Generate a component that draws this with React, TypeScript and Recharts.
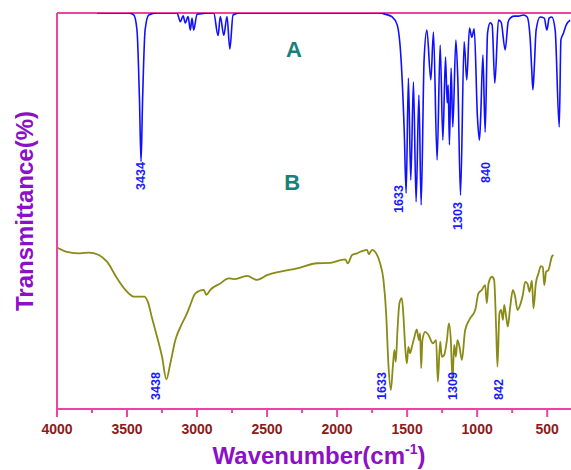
import React from 'react';
import { LineChart, Line, XAxis, YAxis, ReferenceLine, ReferenceDot, Label } from 'recharts';

// spectrum A (blue) — wavenumber / transmittance
const waveA = [3714, 3488, 3452, 3429, 3411, 3400, 3389, 3371, 3345, 3286, 3143, 3119, 3100, 3084, 3064, 3048, 3036, 3024, 3000, 2881, 2850, 2834, 2809, 2786, 2766, 2743, 2693, 1693, 1657, 1607, 1571, 1543, 1521, 1507, 1491, 1474, 1455, 1436, 1416, 1400, 1379, 1359, 1331, 1312, 1286, 1264, 1245, 1226, 1214, 1207, 1198, 1186, 1174, 1152, 1138, 1119, 1093, 1074, 1055, 1038, 1021, 998, 984, 976, 959, 943, 926, 907, 893, 874, 848, 829, 800, 779, 764, 736, 705, 669, 643, 621, 611, 602, 593, 579, 550, 521, 502, 486, 467, 443, 414, 402, 384, 364, 336];
const transA = [100, 100, 99.5, 95.7, 78, 62.4, 78, 95.7, 99.5, 100, 100, 97.8, 99.3, 97.5, 99.1, 95.7, 98.7, 95.7, 99.7, 100, 94.3, 99.1, 94.4, 99.1, 90.9, 99.5, 100, 100, 99.7, 99, 97, 88.1, 70.5, 54.5, 83.6, 57.8, 82.6, 52.3, 79.3, 51.5, 88.1, 95.7, 83.1, 95.2, 62.9, 91.9, 67.9, 88.9, 77.3, 81.8, 66.7, 86.1, 71.2, 93.2, 83.1, 54, 92.7, 83.1, 96.2, 93.9, 96, 73.7, 67.9, 72.7, 89.4, 69.9, 94.9, 97.5, 97, 82.3, 98.2, 97.7, 90.7, 97.7, 98.7, 99.2, 99.2, 99.5, 99, 93.2, 86.1, 80.6, 85.6, 95.7, 99, 98.7, 95.7, 98.7, 99, 95.7, 71.2, 93.2, 94.9, 97, 98.2];

// spectrum B (olive)
const waveB = [4000, 3929, 3834, 3774, 3702, 3643, 3571, 3512, 3452, 3376, 3352, 3321, 3286, 3250, 3219, 3191, 3155, 3107, 3071, 3048, 3012, 2952, 2934, 2905, 2834, 2774, 2738, 2643, 2571, 2500, 2405, 2286, 2143, 2048, 1976, 1941, 1924, 1893, 1857, 1834, 1786, 1774, 1750, 1729, 1693, 1669, 1650, 1634, 1616, 1602, 1591, 1581, 1569, 1555, 1538, 1526, 1514, 1502, 1491, 1479, 1466, 1450, 1431, 1416, 1407, 1400, 1391, 1371, 1348, 1316, 1293, 1281, 1264, 1252, 1236, 1216, 1202, 1188, 1176, 1164, 1152, 1141, 1126, 1109, 1086, 1050, 1014, 991, 966, 943, 931, 919, 895, 879, 864, 855, 841, 829, 816, 807, 793, 781, 764, 745, 729, 712, 693, 674, 657, 641, 626, 609, 598, 581, 562, 545, 531, 521, 507, 491, 466, 455];
const transB = [40.8, 39.7, 39.3, 39.5, 38.9, 37.2, 33, 30.1, 28.4, 28.4, 27.1, 22.9, 18.3, 13.2, 7.5, 11.5, 17.4, 21.6, 24.2, 26.3, 29.2, 30.1, 28.8, 30.1, 31.7, 33, 32.8, 33.6, 32.6, 33.8, 34.7, 35.5, 36.8, 36.9, 37.6, 37.8, 36.8, 38.9, 39.3, 39.7, 40.2, 39.1, 40.2, 39.7, 36.8, 32.6, 24.2, 11.5, 4.8, 10.7, 14.9, 11.9, 19.9, 26.7, 28, 23.3, 15.7, 11.5, 15.7, 14.1, 15.7, 17.9, 20.1, 17.4, 19.1, 10.3, 17.4, 19.5, 18.7, 16.6, 17.4, 6.9, 17, 13.2, 13.6, 17.4, 21.6, 17.4, 7.3, 16.2, 13.2, 17.4, 15.7, 12.4, 19.9, 22.9, 25, 29.2, 30.1, 31.3, 26.7, 31.7, 33.4, 32.6, 19.9, 10.7, 24.2, 25, 22.5, 26.3, 23.3, 20.8, 25.8, 30.1, 28.4, 25, 26.3, 28.8, 32.1, 31.7, 29.6, 32.4, 25.4, 31.7, 34.3, 36.1, 35.8, 31.3, 34.7, 35.1, 38.5, 38.9];

const xTicks = [4000, 3750, 3500, 3250, 3000, 2750, 2500, 2250, 2000, 1750, 1500, 1250, 1000, 750, 500];

// peak annotations: text, where the text starts (bottom end)
const peakText = ['3434', '1633', '1303', '840', '3438', '1633', '1309', '842'];
const peakWave = [3405, 1562, 1141, 943, 3300, 1681, 1174, 848];
const peakT = [55.3, 49.5, 45.2, 57.1, 2.3, 2.3, 2.3, 2.3];

const traceNames = ['A', 'B'];
const traceNameWave = [2309, 2321];
const traceNameT = [90.7, 57.1];

const PINK = '#ee44a0';
const PURPLE = '#8b10c6';
const FONT = 'Arial, "Liberation Sans", sans-serif';

const dataA = waveA.map((wn, i) => ({ wn, t: transA[i] }));
const dataB = waveB.map((wn, i) => ({ wn, t: transB[i] }));

const WaveTick = ({ x, y, payload }: any) => {
  const major = payload.value % 500 === 0;
  return (
    <g>
      <line x1={x} x2={x} y1={y} y2={y + (major ? 8 : 4)} stroke={PINK} strokeWidth={2} />
      {major && (
        <text x={x} y={y + 20} textAnchor="middle" dominantBaseline="central" fill="#8b1a1a" fontWeight="bold" fontSize={14} fontFamily={FONT}>
          {payload.value}
        </text>
      )}
    </g>
  );
};

const peakLabel = (text: string) => (props: any) => {
  const { x, y } = props.viewBox;
  return (
    <text
      x={x}
      y={y}
      transform={`rotate(-90 ${x} ${y})`}
      textAnchor="start"
      dominantBaseline="central"
      fill="#1a1aff"
      fontSize={13}
      fontWeight="bold"
      fontFamily={FONT}
      textLength={text.length * 7}
      lengthAdjust="spacingAndGlyphs"
    >
      {text}
    </text>
  );
};

const nameLabel = (text: string) => (props: any) => {
  const { x, y } = props.viewBox;
  return (
    <text x={x} y={y} textAnchor="middle" dominantBaseline="central" fill="#17807a" fontSize={22} fontWeight="bold" fontFamily={FONT}>
      {text}
    </text>
  );
};

const xTitle = (props: any) => {
  const { x, y, width } = props.viewBox;
  return (
    <text x={x + width / 2 + 5} y={y + 55} textAnchor="middle" fill={PURPLE} fontSize={24} fontWeight="bold" fontFamily={FONT}>
      Wavenumber(cm
      <tspan fontSize={14} dy={-10}>-1</tspan>
      <tspan dy={10}>)</tspan>
    </text>
  );
};

const yTitle = (props: any) => {
  const { y, height } = props.viewBox;
  const cx = 33;
  const cy = y + height / 2;
  return (
    <text x={cx} y={cy} transform={`rotate(-90 ${cx} ${cy})`} textAnchor="middle" fill={PURPLE} fontSize={24} fontWeight="bold" fontFamily={FONT}>
      Transmittance(%)
    </text>
  );
};

export default function App() {
  return (
    <div style={{ position: 'absolute', left: 0, top: 0, width: 571, height: 470, background: '#fff' }}>
      <LineChart width={571} height={470} margin={{ top: 13, right: 0, bottom: 0, left: 0 }}>
        <XAxis
          dataKey="wn"
          type="number"
          domain={[330, 4000]}
          reversed
          allowDataOverflow
          ticks={xTicks}
          interval={0}
          height={61}
          tickSize={0}
          tickMargin={0}
          tickLine={false}
          tick={<WaveTick />}
          axisLine={{ stroke: PINK, strokeWidth: 2 }}
        >
          <Label content={xTitle} />
        </XAxis>
        <YAxis
          type="number"
          domain={[0, 100]}
          allowDataOverflow
          width={57}
          tick={false}
          tickLine={false}
          axisLine={{ stroke: PINK, strokeWidth: 2 }}
        >
          <Label content={yTitle} />
        </YAxis>
        <ReferenceLine y={100} stroke={PINK} strokeWidth={2} />
        <Line data={dataA} dataKey="t" type="monotone" stroke="#1010ff" strokeWidth={1.6} dot={false} isAnimationActive={false} />
        <Line data={dataB} dataKey="t" type="monotone" stroke="#8a8a16" strokeWidth={1.8} dot={false} isAnimationActive={false} />
        {peakText.map((text, i) => (
          <ReferenceDot key={`p${i}`} x={peakWave[i]} y={peakT[i]} r={0} stroke="none" fill="none" label={peakLabel(text)} />
        ))}
        {traceNames.map((text, i) => (
          <ReferenceDot key={`n${i}`} x={traceNameWave[i]} y={traceNameT[i]} r={0} stroke="none" fill="none" label={nameLabel(text)} />
        ))}
      </LineChart>
    </div>
  );
}
